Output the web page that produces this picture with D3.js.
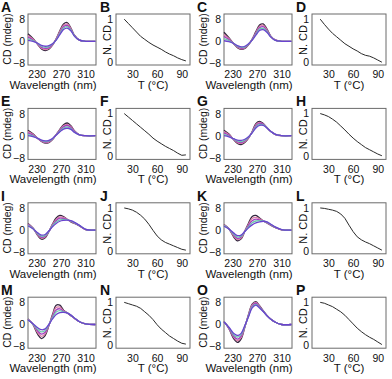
<!DOCTYPE html>
<html>
<head>
<meta charset="utf-8">
<script src="https://cdn.jsdelivr.net/npm/d3@7"></script>
<style>
  body { margin: 0; background: #fff; }
  text { font-family: "Liberation Sans", Arial, sans-serif; fill: #111; }
</style>
</head>
<body>
<svg id="cd-melting"></svg>
<script>
// 1. Data

const wavelengths = [216, 224, 232, 238, 244, 250, 256, 262, 268, 274, 280, 286, 292, 300, 310, 326]
const temperatures = [20, 25, 30, 35, 40, 45, 50, 55, 60, 65, 70, 75, 80, 85, 90, 95]

// five spectra per panel, low temperature first
const spectraA = [
  [2.7, 1.0, -1.2, -2.8, -3.4, -2.9, -1.4, 0.9, 3.8, 6.3, 6.8, 4.8, 2.1, 0.4, 0, 0],
  [2.1, 0.8, -1.1, -2.5, -3.0, -2.6, -1.3, 0.8, 3.5, 5.8, 6.3, 4.6, 2.0, 0.4, 0, 0],
  [1.5, 0.5, -1.0, -2.2, -2.6, -2.3, -1.2, 0.7, 3.1, 5.3, 5.8, 4.3, 2.0, 0.4, 0, 0],
  [0.9, 0.3, -0.8, -1.8, -2.2, -1.9, -1.0, 0.5, 2.8, 4.8, 5.3, 4.1, 1.9, 0.4, 0, 0],
  [0.3, 0.0, -0.7, -1.5, -1.8, -1.6, -0.9, 0.4, 2.4, 4.3, 4.8, 3.8, 1.8, 0.4, 0, 0],
]
const spectraC = [
  [3.3, 1.3, -0.9, -2.3, -2.9, -2.6, -1.3, 0.8, 3.5, 5.9, 6.3, 4.5, 2.0, 0.4, 0, 0],
  [2.5, 1.0, -0.9, -2.1, -2.7, -2.4, -1.2, 0.7, 3.2, 5.4, 5.8, 4.2, 1.9, 0.4, 0, 0],
  [1.8, 0.6, -0.9, -2.0, -2.5, -2.2, -1.1, 0.6, 2.9, 4.9, 5.3, 3.9, 1.8, 0.4, 0, 0],
  [1.0, 0.3, -0.8, -1.8, -2.2, -2.0, -1.0, 0.5, 2.5, 4.4, 4.7, 3.6, 1.7, 0.3, 0, 0],
  [0.2, -0.1, -0.8, -1.6, -2.0, -1.8, -0.9, 0.4, 2.2, 3.9, 4.2, 3.3, 1.6, 0.3, 0, 0],
]
const spectraE = [
  [2.0, 0.7, -1.0, -2.1, -2.7, -2.5, -1.4, 0.4, 2.3, 4.0, 4.6, 3.6, 1.7, 0.3, 0, 0],
  [1.5, 0.5, -1.0, -2.0, -2.5, -2.3, -1.3, 0.4, 2.1, 3.6, 4.1, 3.3, 1.6, 0.3, 0, 0],
  [1.0, 0.2, -1.0, -1.9, -2.3, -2.1, -1.2, 0.3, 1.9, 3.2, 3.7, 3.0, 1.5, 0.3, 0, 0],
  [0.5, -0.1, -1.0, -1.7, -2.1, -1.9, -1.1, 0.3, 1.6, 2.8, 3.2, 2.6, 1.3, 0.3, 0, 0],
  [0.0, -0.3, -1.0, -1.6, -1.9, -1.7, -1.0, 0.2, 1.4, 2.4, 2.7, 2.3, 1.2, 0.3, 0, 0],
]
const spectraG = [
  [2.0, 0.6, -1.5, -2.8, -3.2, -2.5, -0.9, 1.5, 4.4, 5.2, 4.4, 3.0, 1.6, 0.4, 0, 0],
  [1.5, 0.4, -1.4, -2.5, -2.8, -2.2, -0.8, 1.4, 4.0, 4.8, 4.2, 3.0, 1.6, 0.4, 0, 0],
  [1.0, 0.1, -1.3, -2.2, -2.5, -1.9, -0.7, 1.3, 3.6, 4.5, 4.1, 2.9, 1.6, 0.5, 0, 0],
  [0.5, -0.2, -1.2, -1.9, -2.1, -1.6, -0.5, 1.1, 3.2, 4.1, 3.9, 2.9, 1.6, 0.5, 0, 0],
  [0.0, -0.4, -1.1, -1.6, -1.7, -1.3, -0.4, 1.0, 2.8, 3.7, 3.7, 2.8, 1.6, 0.5, 0, 0],
]
const spectraI = [
  [2.4, 0.8, -2.0, -3.3, -2.8, -0.6, 2.2, 4.4, 5.3, 4.9, 3.9, 3.0, 2.4, 1.5, 0.2, 0],
  [2.2, 0.7, -1.8, -2.9, -2.5, -0.5, 2.0, 3.9, 4.8, 4.6, 3.9, 3.1, 2.5, 1.6, 0.2, 0],
  [2.0, 0.7, -1.5, -2.6, -2.2, -0.5, 1.7, 3.4, 4.3, 4.2, 3.8, 3.2, 2.6, 1.6, 0.3, 0],
  [1.7, 0.6, -1.3, -2.2, -1.9, -0.4, 1.5, 2.9, 3.7, 3.9, 3.7, 3.3, 2.7, 1.7, 0.3, 0],
  [1.5, 0.5, -1.0, -1.8, -1.6, -0.3, 1.2, 2.4, 3.2, 3.5, 3.6, 3.4, 2.8, 1.7, 0.3, 0],
]
const spectraK = [
  [2.0, 0.5, -2.5, -3.9, -3.2, -0.4, 2.5, 4.9, 5.3, 4.4, 3.4, 2.6, 1.8, 0.9, 0.1, 0],
  [1.9, 0.5, -2.2, -3.4, -2.9, -0.4, 2.1, 4.2, 4.6, 4.1, 3.4, 2.7, 1.9, 1.0, 0.1, 0],
  [1.7, 0.5, -1.8, -3.0, -2.5, -0.5, 1.7, 3.4, 4.0, 3.7, 3.3, 2.8, 2.0, 1.0, 0.2, 0],
  [1.6, 0.4, -1.5, -2.5, -2.2, -0.5, 1.2, 2.7, 3.3, 3.4, 3.3, 2.9, 2.1, 1.1, 0.2, 0],
  [1.4, 0.4, -1.1, -2.0, -1.8, -0.5, 0.8, 1.9, 2.6, 3.0, 3.2, 3.0, 2.2, 1.1, 0.2, 0],
]
const spectraM = [
  [2.0, 0.0, -3.6, -5.1, -4.0, -0.5, 3.6, 7.0, 7.0, 5.2, 4.2, 3.2, 2.2, 1.0, 0.2, 0],
  [1.9, 0.1, -3.0, -4.3, -3.4, -0.4, 3.2, 6.2, 6.3, 5.0, 4.2, 3.3, 2.2, 1.0, 0.2, 0],
  [1.8, 0.2, -2.4, -3.5, -2.8, -0.3, 2.8, 5.3, 5.7, 4.8, 4.2, 3.3, 2.3, 1.0, 0.2, 0],
  [1.7, 0.2, -1.8, -2.7, -2.2, -0.1, 2.4, 4.5, 5.0, 4.6, 4.2, 3.4, 2.3, 1.0, 0.2, 0],
  [1.6, 0.3, -1.2, -1.9, -1.6, 0.0, 2.0, 3.6, 4.3, 4.4, 4.2, 3.4, 2.3, 1.0, 0.2, 0],
]
const spectraO = [
  [1.1, -1.5, -5.2, -6.5, -5.2, -1.0, 3.6, 7.4, 8.3, 6.8, 5.0, 3.3, 2.0, 0.8, 0, 0],
  [1.1, -1.4, -4.7, -5.9, -4.7, -0.9, 3.4, 7.1, 8.0, 6.6, 4.9, 3.3, 2.0, 0.8, 0, 0],
  [1.0, -1.3, -4.3, -5.3, -4.2, -0.7, 3.2, 6.7, 7.7, 6.4, 4.9, 3.3, 2.0, 0.8, 0, 0],
  [1.0, -1.1, -3.8, -4.6, -3.7, -0.6, 3.0, 6.4, 7.3, 6.2, 4.8, 3.2, 2.0, 0.8, 0, 0],
  [0.9, -1.0, -3.3, -4.0, -3.2, -0.4, 2.8, 6.0, 7.0, 6.0, 4.7, 3.2, 2.0, 0.8, 0, 0],
]

// normalised CD against temperature
const meltB = [1.0, 0.9, 0.8, 0.7, 0.6, 0.53, 0.46, 0.4, 0.35, 0.3, 0.24, 0.19, 0.15, 0.1, 0.06, 0.03]
const meltD = [1.0, 0.88, 0.77, 0.67, 0.59, 0.51, 0.43, 0.37, 0.31, 0.26, 0.2, 0.16, 0.14, 0.1, 0.05, 0.0]
const meltF = [1.0, 0.92, 0.84, 0.76, 0.68, 0.6, 0.52, 0.43, 0.36, 0.3, 0.24, 0.19, 0.14, 0.08, 0.03, 0.04]
const meltH = [1.0, 0.97, 0.93, 0.87, 0.8, 0.71, 0.62, 0.52, 0.43, 0.35, 0.28, 0.21, 0.16, 0.11, 0.06, 0.02]
const meltJ = [1.0, 0.98, 0.95, 0.9, 0.83, 0.74, 0.62, 0.48, 0.35, 0.26, 0.2, 0.16, 0.12, 0.08, 0.04, 0.02]
const meltL = [1.0, 0.99, 0.97, 0.95, 0.92, 0.86, 0.76, 0.6, 0.45, 0.33, 0.26, 0.21, 0.17, 0.12, 0.07, 0.02]
const meltN = [1.0, 0.97, 0.94, 0.91, 0.86, 0.78, 0.7, 0.6, 0.48, 0.38, 0.3, 0.22, 0.16, 0.1, 0.05, 0.03]
const meltP = [1.0, 0.98, 0.94, 0.9, 0.84, 0.78, 0.7, 0.6, 0.5, 0.4, 0.32, 0.25, 0.19, 0.14, 0.08, 0.02]

const spectrumLetters = ["A", "C", "E", "G", "I", "K", "M", "O"]
const meltLetters = ["B", "D", "F", "H", "J", "L", "N", "P"]
const spectrumSets = [spectraA, spectraC, spectraE, spectraG, spectraI, spectraK, spectraM, spectraO]
const meltSets = [meltB, meltD, meltF, meltH, meltJ, meltL, meltN, meltP]

const wavelengthTicks = [230, 270, 310]
const cdTicks = [-8, 0, 8]
const tempTicks = [30, 60, 90]
const ncdTicks = [0, 1]

const curveColors = ["#33263f", "#dc7fa8", "#a241bf", "#6fc7ae", "#6a43cf"]

function cd_melting_grid() {

  // 2. Dimensions
  const dimensions = {
    width: 392,
    height: 379,
    cellWidth: 196,
    cellHeight: 94.4,
    boxTop: 14,
    boxBottom: 65,
    spectrumLeft: 28,
    spectrumRight: 96,
    meltLeft: 116,
    meltRight: 190,
  }

  // 3. Draw canvas
  const wrapper = d3.select("#cd-melting")
      .attr("width", dimensions.width)
      .attr("height", dimensions.height)

  // 4. Scales (same for every panel, panels are shifted with a transform)
  const xWave = d3.scaleLinear()
    .domain([216, 327])
    .range([dimensions.spectrumLeft, dimensions.spectrumRight])
  const yCd = d3.scaleLinear()
    .domain([-8.6, 9.9])
    .range([dimensions.boxBottom, dimensions.boxTop])
  const xTemp = d3.scaleLinear()
    .domain([10, 100])
    .range([dimensions.meltLeft, dimensions.meltRight])
  const yNcd = d3.scaleLinear()
    .domain([-0.065, 1.12])
    .range([dimensions.boxBottom, dimensions.boxTop])

  const spectrumLine = d3.line()
    .x((d, i) => xWave(wavelengths[i]))
    .y(d => yCd(d))
    .curve(d3.curveCatmullRom)
  const meltLine = d3.line()
    .x((d, i) => xTemp(temperatures[i]))
    .y(d => yNcd(d))

  const boxHeight = dimensions.boxBottom - dimensions.boxTop

  const addAxes = (g, xScale, yScale, xTicks, yTicks, left, right, xTitle, yTitle) => {
    g.append("rect")
      .attr("x", left)
      .attr("y", dimensions.boxTop)
      .attr("width", right - left)
      .attr("height", boxHeight)
      .attr("fill", "none")
      .attr("stroke", "#6b6b6b")
      .attr("stroke-width", 1)

    const xAxis = g.append("g")
      .attr("transform", `translate(0, ${dimensions.boxBottom})`)
      .call(d3.axisBottom(xScale).tickValues(xTicks).tickSize(0).tickPadding(6).tickFormat(d3.format("d")))
    const yAxis = g.append("g")
      .attr("transform", `translate(${left}, 0)`)
      .call(d3.axisLeft(yScale).tickValues(yTicks).tickSize(0).tickPadding(3).tickFormat(d3.format("d")))
    ;[xAxis, yAxis].forEach(a => {
      a.select(".domain").remove()
      a.selectAll("text")
        .style("font-size", "10.5px")
        .style("font-family", "'Liberation Sans', Arial, sans-serif")
        .attr("fill", "#111")
    })

    g.append("text")
      .attr("x", xTitle.x)
      .attr("y", 89)
      .attr("text-anchor", "middle")
      .style("font-size", "11.5px")
      .text(xTitle.label)

    g.append("text")
      .attr("transform", `translate(${yTitle.x}, ${yTitle.y}) rotate(-90)`)
      .attr("text-anchor", "middle")
      .attr("dominant-baseline", "central")
      .style("font-size", yTitle.size)
      .text(yTitle.label)
  }

  // 5. Draw panels
  spectrumSets.forEach((spectra, p) => {
    const row = Math.floor(p / 2)
    const col = p % 2
    const cell = wrapper.append("g")
      .attr("transform", `translate(${col * dimensions.cellWidth}, ${row * dimensions.cellHeight})`)

    // spectra panel
    addAxes(cell, xWave, yCd, wavelengthTicks, cdTicks,
      dimensions.spectrumLeft, dimensions.spectrumRight,
      { x: 53, label: "Wavelength (nm)" }, { x: 7, y: 39, size: "10.5px", label: "CD (mdeg)" })

    cell.append("g")
      .selectAll("path")
      .data(spectra)
      .join("path")
        .attr("d", spectrumLine)
        .attr("fill", "none")
        .attr("stroke", (d, i) => curveColors[i])
        .attr("stroke-width", 1.3)

    cell.append("text")
      .attr("x", 1)
      .attr("y", 12)
      .style("font-size", "14px")
      .style("font-weight", "bold")
      .text(spectrumLetters[p])

    // melting panel
    addAxes(cell, xTemp, yNcd, tempTicks, ncdTicks,
      dimensions.meltLeft, dimensions.meltRight,
      { x: 153, label: "T (°C)" }, { x: 107, y: 40, size: "11px", label: "N. CD" })

    cell.append("path")
      .datum(meltSets[p])
      .attr("d", meltLine)
      .attr("fill", "none")
      .attr("stroke", "#2a2a2a")
      .attr("stroke-width", 1)

    cell.append("text")
      .attr("x", 100)
      .attr("y", 12)
      .style("font-size", "14px")
      .style("font-weight", "bold")
      .text(meltLetters[p])
  })
}

cd_melting_grid()
</script>
</body>
</html>
